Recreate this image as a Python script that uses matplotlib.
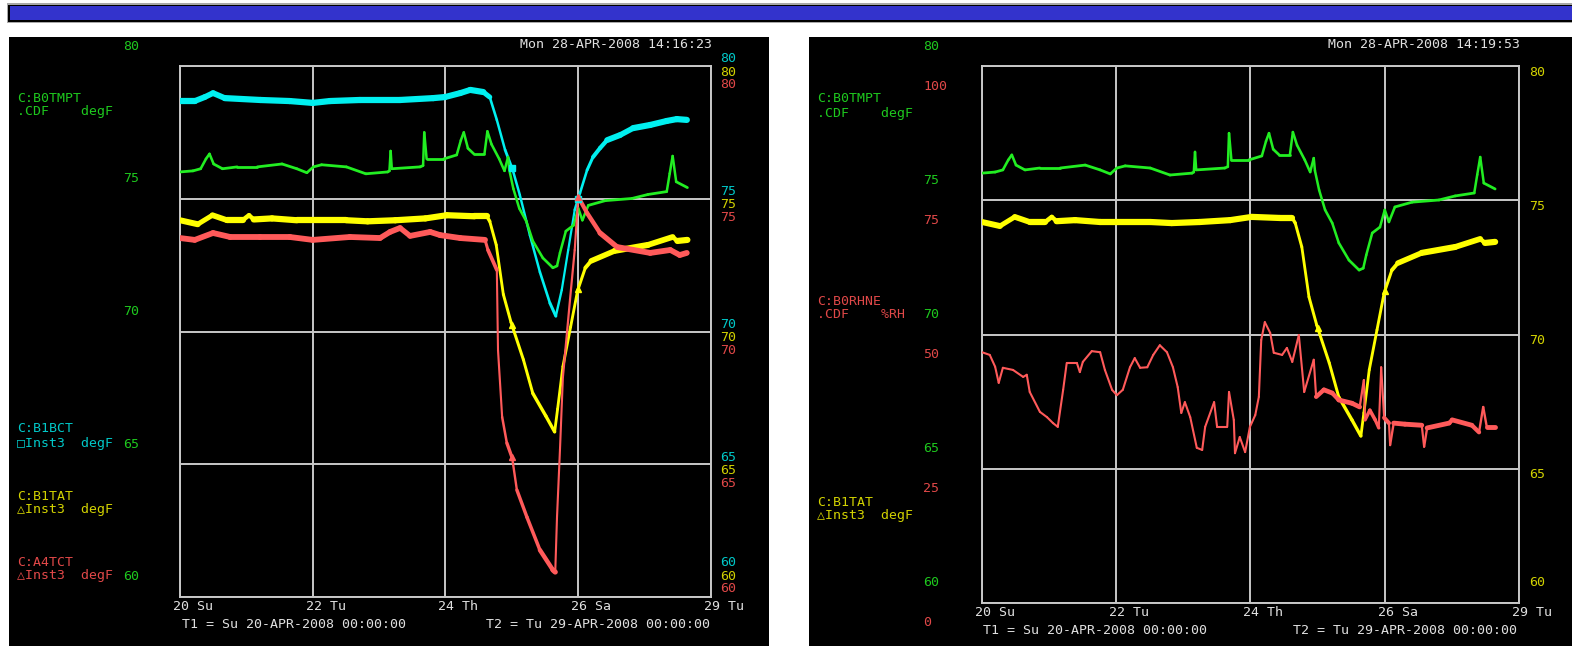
import numpy as np
import matplotlib
matplotlib.use("Agg")
import matplotlib.pyplot as plt
from matplotlib.collections import LineCollection
from matplotlib.patches import Rectangle

W, H = 1572, 646

# time axis: days after Su 20-APR-2008 00:00
grid_days = [0, 2.25, 4.5, 6.75, 9]
day_labels = ["20 Su", "22 Tu", "24 Th", "26 Sa", "29 Tu"]
temp_ticks = [60, 65, 70, 75, 80]
rh_ticks = [0, 25, 50, 75, 100]
marker_days = [5.625, 6.75]

# C:B0TMPT  .CDF  degF  (green, both panels)
tmpt_t = [0, 0.22, 0.35, 0.44, 0.50, 0.57, 0.72, 0.97, 1.31, 1.73, 1.98, 2.15, 2.26, 2.40,
          2.82, 3.15, 3.52, 3.55, 3.57, 3.59, 4.07, 4.12, 4.14, 4.18, 4.47, 4.69, 4.76, 4.81,
          4.88, 4.98, 5.16, 5.21, 5.28, 5.41, 5.50, 5.56, 5.58, 5.65, 5.75, 5.87, 5.98, 6.15,
          6.32, 6.39, 6.44, 6.54, 6.67, 6.75, 6.82, 6.92, 7.21, 7.66, 7.93, 8.25, 8.30, 8.35,
          8.41, 8.60]
tmpt_v = [76.01, 76.05, 76.13, 76.50, 76.69, 76.31, 76.13, 76.20, 76.20, 76.31, 76.13, 75.98,
          76.20, 76.28, 76.20, 75.94, 76.01, 76.05, 76.80, 76.13, 76.20, 76.25, 77.50, 76.50,
          76.50, 76.65, 77.20, 77.50, 76.90, 76.69, 76.69, 77.54, 77.05, 76.50, 76.05, 76.57,
          76.10, 75.38, 74.64, 74.15, 73.41, 72.77, 72.40, 72.47, 72.96, 73.78, 74.00, 74.64,
          74.19, 74.75, 74.93, 75.01, 75.16, 75.27, 75.95, 76.61, 75.64, 75.42]

# C:B1BCT  Inst3  degF  (cyan, left panel)
bct_t = [0, 0.25, 0.42, 0.56, 0.76, 1.36, 1.86, 2.25, 2.54, 3.05, 3.73, 4.29, 4.49, 4.75,
         4.92, 5.14, 5.25, 5.37, 5.51, 5.64, 5.76, 5.93, 6.10, 6.27, 6.37, 6.47, 6.58, 6.69,
         6.78, 6.90, 7.00, 7.12, 7.24, 7.46, 7.68, 7.97, 8.25, 8.42, 8.59]
bct_v = [78.68, 78.68, 78.83, 78.98, 78.79, 78.72, 78.68, 78.61, 78.68, 78.72, 78.72, 78.79,
         78.83, 78.98, 79.10, 79.02, 78.83, 77.97, 76.84, 76.08, 75.14, 73.63, 72.24, 71.07,
         70.58, 71.56, 73.07, 74.58, 75.22, 76.08, 76.57, 76.91, 77.21, 77.40, 77.66, 77.78,
         77.93, 78.00, 77.97]

# C:B1TAT  Inst3  degF  (yellow, both panels)
tat_t = [0, 0.30, 0.55, 0.80, 1.06, 1.17, 1.25, 1.56, 1.98, 2.26, 2.82, 3.18, 3.65, 4.16,
         4.52, 4.99, 5.20, 5.25, 5.36, 5.48, 5.61, 5.82, 5.98, 6.20, 6.35, 6.40, 6.49, 6.62,
         6.74, 6.87, 6.97, 7.37, 7.93, 8.35, 8.43, 8.60]
tat_v = [74.19, 74.04, 74.38, 74.19, 74.19, 74.38, 74.22, 74.26, 74.19, 74.19, 74.19, 74.15,
         74.19, 74.26, 74.38, 74.34, 74.34, 74.15, 73.26, 71.40, 70.35, 68.94, 67.67, 66.82,
         66.22, 67.08, 68.68, 70.17, 71.55, 72.40, 72.66, 73.04, 73.26, 73.56, 73.41, 73.45]

# C:A4TCT  Inst3  degF  (red, left panel)
a4t_t = [0, 0.25, 0.56, 0.85, 1.36, 1.86, 2.25, 2.88, 3.39, 3.56, 3.73, 3.90, 4.24, 4.41,
         4.75, 5.17, 5.22, 5.37, 5.39, 5.46, 5.54, 5.63, 5.71, 5.88, 6.10, 6.32, 6.36, 6.39,
         6.44, 6.49, 6.61, 6.69, 6.75, 6.90, 7.12, 7.41, 7.97, 8.31, 8.47, 8.59]
a4t_v = [73.52, 73.45, 73.71, 73.56, 73.56, 73.56, 73.45, 73.56, 73.52, 73.75, 73.90, 73.60,
         73.75, 73.63, 73.52, 73.45, 73.07, 72.32, 69.30, 66.78, 65.80, 65.24, 64.03, 63.01,
         61.77, 61.02, 60.94, 63.01, 65.54, 68.29, 71.19, 73.07, 75.07, 74.46, 73.71, 73.18,
         72.96, 73.07, 72.88, 72.96]

# C:B0RHNE  .CDF  %RH  (red, right panel)
rh_t = [0, 0.13, 0.22, 0.28, 0.35, 0.52, 0.69, 0.75, 0.80, 0.97, 1.09, 1.19, 1.27, 1.36,
        1.42, 1.59, 1.64, 1.69, 1.84, 1.98, 2.06, 2.18, 2.26, 2.36, 2.48, 2.56, 2.65, 2.77,
        2.87, 2.98, 3.10, 3.20, 3.28, 3.34, 3.40, 3.49, 3.60, 3.69, 3.74, 3.89, 3.94, 4.11,
        4.14, 4.22, 4.24, 4.32, 4.41, 4.49, 4.58, 4.64, 4.68, 4.74, 4.83, 4.89, 5.03, 5.11,
        5.20, 5.31, 5.40, 5.56, 5.60, 5.73, 5.87, 5.98, 6.20, 6.33, 6.40, 6.42, 6.50, 6.59,
        6.65, 6.69, 6.74, 6.82, 6.84, 6.90, 7.09, 7.37, 7.41, 7.46, 7.83, 7.88, 8.21, 8.33,
        8.40, 8.46, 8.60]
rh_v = [46.7, 46.2, 44.0, 41.0, 43.8, 43.4, 42.1, 42.5, 39.3, 35.6, 34.6, 33.5, 32.8, 39.7,
        44.7, 44.7, 43.0, 44.9, 46.9, 46.7, 43.4, 39.7, 38.7, 39.7, 43.9, 45.6, 43.8, 43.9,
        46.2, 48.0, 46.7, 43.9, 40.2, 35.4, 37.4, 34.6, 28.9, 28.5, 32.8, 37.4, 32.8, 32.8,
        39.3, 34.1, 27.9, 30.9, 28.1, 32.8, 35.0, 38.4, 49.0, 52.3, 50.3, 46.6, 46.2, 47.5,
        44.9, 49.9, 39.3, 45.3, 38.4, 39.7, 39.1, 37.8, 37.2, 36.5, 41.5, 34.1, 35.9, 34.1,
        32.6, 43.9, 34.5, 33.5, 29.4, 33.5, 33.3, 33.1, 29.1, 32.6, 33.5, 34.1, 33.1, 31.8,
        36.5, 32.8, 32.8]

GREEN_L, GREEN_T = "#22ee22", "#1ec81e"
CYAN_L, CYAN_T = "#00f0f0", "#00c8c8"
YEL_L, YEL_T = "#ffff00", "#d2d200"
RED_L, RED_T = "#ff5a5a", "#e04848"
WHITE_T = "#e0e0e0"
GRID = "#c8c8c8"
FONT = dict(family=["DejaVu Sans Mono", "DejaVu Sans"], fontsize=9.5)

fig = plt.figure(figsize=(W / 100, H / 100), dpi=100, facecolor="white")


def rect(x0, y0, x1, y1, color):
    fig.patches.append(Rectangle((x0 / W, 1 - y1 / H), (x1 - x0) / W, (y1 - y0) / H,
                                 transform=fig.transFigure, facecolor=color,
                                 edgecolor="none", zorder=-5))


def ftext(x, y, s, color, ha="left"):
    fig.text(x / W, 1 - y / H, s, color=color, ha=ha, va="center", **FONT)


# title bar and the two black screens
rect(7, 3, W, 23, "#a8a8a8")
rect(8, 4.5, W, 21.5, "black")
rect(10, 6.5, W, 19.5, "#3333cc")
rect(9, 37, 769, H, "black")
rect(809, 37, W, H, "black")


def panel(x0, y0, x1, y1):
    ax = fig.add_axes([x0 / W, 1 - y1 / H, (x1 - x0) / W, (y1 - y0) / H])
    ax.set_facecolor("black")
    ax.set_xlim(0, 9)
    ax.set_ylim(60, 80)
    ax.set_xticks(grid_days)
    ax.set_yticks(temp_ticks)
    ax.tick_params(length=0, labelbottom=False, labelleft=False)
    ax.grid(True, color=GRID, lw=1.4)
    for s in ax.spines.values():
        s.set_color(GRID)
        s.set_linewidth(1.4)
    for d, lab in zip(grid_days, day_labels):
        ax.annotate(lab, (d, 0), xycoords=("data", "axes fraction"), xytext=(-7, -9),
                    textcoords="offset pixels", color=WHITE_T, ha="left", va="center",
                    annotation_clip=False, **FONT)
    return ax


def trace(ax, t, v, color, thick, thin=1.5, steep=1.5, thick_from=None, z=3):
    # noisy, densely sampled stretches show as a wide band, fast changes as a thin line
    t = np.asarray(t, float)
    v = np.asarray(v, float)
    pts = ax.transData.transform(np.column_stack([t, v]))
    dx = np.maximum(np.abs(np.diff(pts[:, 0])), 1e-6)
    slope = np.abs(np.diff(pts[:, 1])) / dx
    widths = thin + (thick - thin) / (1 + (slope / steep) ** 2)
    if thick_from is not None:
        widths = np.where(t[:-1] < thick_from, thin, widths)
    segs = np.stack([np.column_stack([t[:-1], v[:-1]]),
                     np.column_stack([t[1:], v[1:]])], axis=1)
    lc = LineCollection(segs, colors=color, linewidths=widths, capstyle="round",
                        joinstyle="round", zorder=z)
    ax.add_collection(lc)


def marks(ax, t, v, color, marker, z=4):
    ax.plot(marker_days, np.interp(marker_days, t, v), ls="none", marker=marker,
            color=color, ms=5, zorder=z)


def side_label(ax, v, side, dx, dy, color):
    ax.annotate(str(v), (side, v), xycoords=("axes fraction", "data"), xytext=(dx, dy),
                textcoords="offset pixels", color=color, ha="left", va="center",
                annotation_clip=False, **FONT)


# ---------------- left screen ----------------
axl = panel(180, 66, 711, 597)
trace(axl, bct_t, bct_v, CYAN_L, 4.5, thin=1.5, steep=1.2)
marks(axl, bct_t, bct_v, CYAN_L, "s")
trace(axl, tmpt_t, tmpt_v, GREEN_L, 2.0, thin=1.8, z=3.2)
trace(axl, tat_t, tat_v, YEL_L, 4.5, thin=2.0, steep=0.8, z=3.4)
marks(axl, tat_t, tat_v, YEL_L, "^")
trace(axl, a4t_t, a4t_v, RED_L, 4.2, thin=1.5, steep=2.0, z=3.6)
marks(axl, a4t_t, a4t_v, RED_L, "^")

for v in temp_ticks:
    side_label(axl, v, 0, -57, 20, GREEN_T)
    lift = 27 if v == temp_ticks[0] else 0
    for col, dy in ((CYAN_T, 7), (YEL_T, -6), (RED_T, -19)):
        side_label(axl, v, 1, 9, dy + lift, col)

ftext(712, 45, "Mon 28-APR-2008 14:16:23", WHITE_T, ha="right")
ftext(17, 98, "C:B0TMPT", GREEN_T)
ftext(17, 111, ".CDF    degF", GREEN_T)
ftext(17, 429, "C:B1BCT", CYAN_T)
ftext(17, 443, "\u25a1Inst3  degF", CYAN_T)
ftext(17, 496, "C:B1TAT", YEL_T)
ftext(17, 509, "\u25b3Inst3  degF", YEL_T)
ftext(17, 562, "C:A4TCT", RED_T)
ftext(17, 576, "\u25b3Inst3  degF", RED_T)
ftext(182, 624, "T1 = Su 20-APR-2008 00:00:00", WHITE_T)
ftext(710, 624, "T2 = Tu 29-APR-2008 00:00:00", WHITE_T, ha="right")

# ---------------- right screen ----------------
axr = panel(982, 66, 1519, 603)
axh = axr.twinx()
axh.set_ylim(0, 100)
axh.axis("off")
trace(axr, tmpt_t, tmpt_v, GREEN_L, 2.0, thin=1.8, z=3.2)
trace(axr, tat_t, tat_v, YEL_L, 4.5, thin=2.0, steep=0.8, z=3.4)
marks(axr, tat_t, tat_v, YEL_L, "^")
trace(axh, rh_t, rh_v, RED_L, 3.5, thin=1.5, steep=2.0, thick_from=5.55, z=3)

for v in temp_ticks:
    side_label(axr, v, 0, -59, 20, GREEN_T)
    side_label(axr, v, 1, 10, 20 if v == temp_ticks[0] else -6, YEL_T)
for v in rh_ticks:
    side_label(axh, v, 0, -59, -20, RED_T)

ftext(1520, 45, "Mon 28-APR-2008 14:19:53", WHITE_T, ha="right")
ftext(817, 99, "C:B0TMPT", GREEN_T)
ftext(817, 113, ".CDF    degF", GREEN_T)
ftext(817, 301, "C:B0RHNE", RED_T)
ftext(817, 314, ".CDF    %RH", RED_T)
ftext(817, 502, "C:B1TAT", YEL_T)
ftext(817, 515, "\u25b3Inst3  degF", YEL_T)
ftext(983, 631, "T1 = Su 20-APR-2008 00:00:00", WHITE_T)
ftext(1517, 631, "T2 = Tu 29-APR-2008 00:00:00", WHITE_T, ha="right")

fig.savefig("out.png", dpi=100, facecolor="white")
